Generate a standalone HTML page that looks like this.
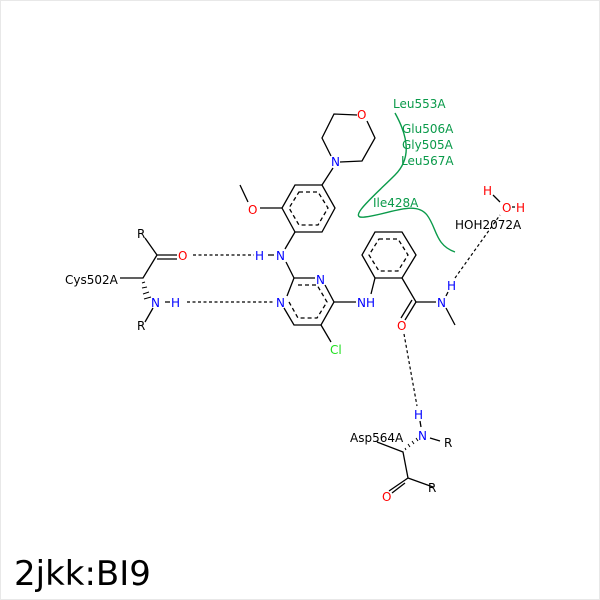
<!DOCTYPE html>
<html><head><meta charset="utf-8"><style>
html,body{margin:0;padding:0;background:#fff}
svg{display:block}
text{font-family:"DejaVu Sans","Liberation Sans",sans-serif;font-size:12px}
</style></head><body>
<svg width="600" height="600" viewBox="0 0 600 600">
<rect x="0.5" y="0.5" width="599" height="599" fill="#fff" stroke="#e8e8e8"/>
<g stroke="#000" stroke-width="1.3" fill="none">
<path d="M357,115 L334,114 L322,138 L331,156 M340,162 L362,161 L375,138 L367,121"/>
<path d="M333,168 L322,185"/>
<path d="M295,185 L322,185 L335,208 L322,232 L295,232 L282,208 Z"/>
<path d="M299,192 L318,192 L328,208 L318,225 L299,225 L289,208 Z" stroke-dasharray="4,3"/>
<path d="M282,208 L260,208 M248,202 L240,185"/>
<path d="M295,232 L285,249"/>
<path d="M286,262 L294,278 L315,278 M325,285 L334,302 L321,325 L294,325 L284,308 M287,296 L294,278"/>
<path d="M298,285 L317,285 L327,302 L317,318 L298,318 L289,302" stroke-dasharray="4,3"/>
<path d="M321,325 L331,342 M334,302 L356,302"/>
<path d="M375,232 L402,232 L416,255 L402,278 L375,278 L362,255 Z"/>
<path d="M379,239 L398,239 L408,255 L398,271 L379,271 L369,255 Z" stroke-dasharray="4,3"/>
<path d="M375,278 L371,294 M402,278 L416,302 L436,302 M446,308 L455,325"/>
<path d="M416,302 L405,320 M412,300 L401,318"/>
<path d="M145,238 L157,255 L143,278 L120,278 M157,255 L177,255 M157,259 L177,259 M153,308 L145,322"/>
<path d="M377,442 L403,452 L408,478 L433,487 M408,478 L389,491 M405,483 L392,493 M430,438 L440,441"/>
<!-- X-H bonds -->
<path d="M268,255 L274,255 M165,302 L170,302 M446,296 L448,292 M420,421 L421,427 M493,195 L500,202 M512,207 L515,207"/>
</g>
<g stroke="#000" stroke-width="1">
<path d="M145,282 L142,283 M147,287 L142,288 M149,292 L143,294 M151,297 L144,299"/>
<path d="M406,450 L405,448 M410,447 L408,444 M414,444 L412,441 M418,441 L416,438"/>
</g>
<g stroke="#000" stroke-width="1.2" stroke-dasharray="3,2.5" fill="none">
<path d="M193,255 L254,255"/>
<path d="M187,302 L274,302"/>
<path d="M455,278 L500,215"/>
<path d="M404,334 L417,406"/>
</g>
<path d="M395,113 C410,140 410,160 395,175 C375,195 345,220 365,217 C390,214 415,200 427,215 C437,228 435,245 455,252" stroke="#0a9a4a" stroke-width="1.4" fill="none"/>
<g fill="#0a9a4a">
<text x="393" y="108">Leu553A</text>
<text x="402" y="133">Glu506A</text>
<text x="402" y="149">Gly505A</text>
<text x="401" y="165">Leu567A</text>
<text x="373" y="207">Ile428A</text>
</g>
<g fill="#f00">
<text x="357" y="119">O</text>
<text x="248" y="214">O</text>
<text x="178" y="260">O</text>
<text x="397" y="330">O</text>
<text x="502" y="212">O</text>
<text x="382" y="501">O</text>
</g>
<g fill="#00f">
<text x="331" y="166">N</text>
<text x="255" y="260">H</text>
<text x="276" y="260">N</text>
<text x="316" y="284">N</text>
<text x="276" y="307">N</text>
<text x="357" y="307">NH</text>
<text x="437" y="307">N</text>
<text x="447" y="290">H</text>
<text x="151" y="307">N</text>
<text x="171" y="307">H</text>
<text x="414" y="419">H</text>
<text x="418" y="440">N</text>
</g>
<g fill="#f00"><text x="483" y="195">H</text><text x="516" y="212">H</text></g>
<text x="330" y="354" fill="#1ee01e">Cl</text>
<g fill="#000">
<text x="137" y="238">R</text>
<text x="65" y="284">Cys502A</text>
<text x="137" y="330">R</text>
<text x="455" y="229">HOH2072A</text>
<text x="350" y="442">Asp564A</text>
<text x="444" y="447">R</text>
<text x="428" y="492">R</text>
</g>
<text x="14" y="585" style="font-size:34px" fill="#000">2jkk:BI9</text>
</svg>
</body></html>
